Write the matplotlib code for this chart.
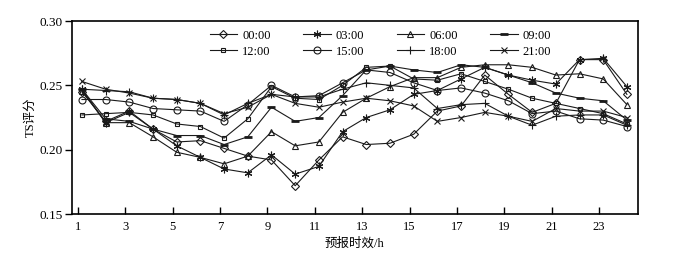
import matplotlib
matplotlib.use("Agg")
import matplotlib.pyplot as plt

plt.rcParams['font.family'] = ['Liberation Serif', 'Noto Sans CJK SC']

hours = list(range(1, 25))

s00 = [0.245, 0.222, 0.230, 0.216, 0.206, 0.207, 0.201, 0.195, 0.192, 0.172, 0.192, 0.210,
       0.204, 0.205, 0.212, 0.230, 0.234, 0.258, 0.243, 0.229, 0.236, 0.270, 0.270, 0.243]
s03 = [0.247, 0.221, 0.229, 0.216, 0.203, 0.194, 0.185, 0.182, 0.196, 0.181, 0.187, 0.214,
       0.225, 0.231, 0.243, 0.246, 0.255, 0.264, 0.258, 0.254, 0.251, 0.270, 0.271, 0.249]
s06 = [0.246, 0.221, 0.221, 0.210, 0.198, 0.194, 0.189, 0.195, 0.214, 0.203, 0.206, 0.229,
       0.240, 0.249, 0.256, 0.256, 0.264, 0.266, 0.266, 0.264, 0.258, 0.259, 0.255, 0.235]
s09 = [0.247, 0.224, 0.222, 0.216, 0.211, 0.211, 0.204, 0.210, 0.233, 0.222, 0.225, 0.242,
       0.262, 0.265, 0.262, 0.260, 0.266, 0.264, 0.258, 0.252, 0.244, 0.240, 0.238, 0.223]
s12 = [0.227, 0.228, 0.229, 0.227, 0.220, 0.218, 0.209, 0.224, 0.249, 0.240, 0.239, 0.250,
       0.264, 0.265, 0.255, 0.254, 0.259, 0.253, 0.247, 0.240, 0.236, 0.232, 0.228, 0.220]
s15 = [0.239, 0.239, 0.237, 0.232, 0.231, 0.230, 0.222, 0.235, 0.250, 0.241, 0.242, 0.252,
       0.262, 0.260, 0.252, 0.246, 0.248, 0.244, 0.238, 0.228, 0.230, 0.224, 0.223, 0.218]
s18 = [0.247, 0.246, 0.245, 0.240, 0.239, 0.236, 0.227, 0.236, 0.243, 0.241, 0.241, 0.247,
       0.252, 0.250, 0.248, 0.232, 0.235, 0.236, 0.226, 0.219, 0.226, 0.227, 0.227, 0.219]
s21 = [0.253, 0.247, 0.244, 0.240, 0.239, 0.236, 0.228, 0.233, 0.243, 0.236, 0.233, 0.237,
       0.240, 0.238, 0.234, 0.222, 0.225, 0.229, 0.226, 0.222, 0.232, 0.230, 0.230, 0.225]

labels = ['00:00', '03:00', '06:00', '09:00', '12:00', '15:00', '18:00', '21:00']
series = [s00, s03, s06, s09, s12, s15, s18, s21]
markers = ['D', (6, 2, 0), '^', '_', 's', 'o', '+', 'x']
msizes = [4, 5.5, 5, 5.5, 3, 5, 6, 5]

fig = plt.figure(figsize=(6.76, 2.58), dpi=100)
ax = fig.add_axes([0.1065, 0.1705, 0.837, 0.748])

lines = []
for ys, lab, mk, ms in zip(series, labels, markers, msizes):
    mew = 2.0 if mk == '_' else 0.8
    ln, = ax.plot(hours, ys, color='#1a1a1a', lw=0.8, marker=mk, ms=ms,
                  mfc='none', mec='#1a1a1a', mew=mew, label=lab)
    lines.append(ln)

ax.set_xlim(0.58, 24.46)
ax.set_ylim(0.15, 0.30)
ticks = list(range(1, 24, 2))
ax.set_xticks([t - 0.17 for t in ticks])
ax.set_xticklabels([str(t) for t in ticks])
ax.set_yticks([0.15, 0.20, 0.25, 0.30])
ax.set_yticklabels(['0.15', '0.20', '0.25', '0.30'])
ax.tick_params(axis='x', direction='in', length=5, width=1, labelsize=9, pad=5)
ax.tick_params(axis='y', direction='out', length=5, width=1, labelsize=9.5, pad=2)
for sp in ax.spines.values():
    sp.set_linewidth(1.2)

ax.set_xlabel('预报时效/h', fontsize=9, labelpad=3)
ax.set_ylabel('TS评分', fontsize=9, labelpad=2)

order = [0, 4, 1, 5, 2, 6, 3, 7]
ax.legend([lines[i] for i in order], [labels[i] for i in order], ncol=4,
          loc='upper left', bbox_to_anchor=(0.228, 1.0), frameon=False,
          fontsize=9, handlelength=2.2, handletextpad=0.4, columnspacing=2.6,
          labelspacing=0.3, borderaxespad=0.3)

fig.savefig('out.png', dpi=100)
